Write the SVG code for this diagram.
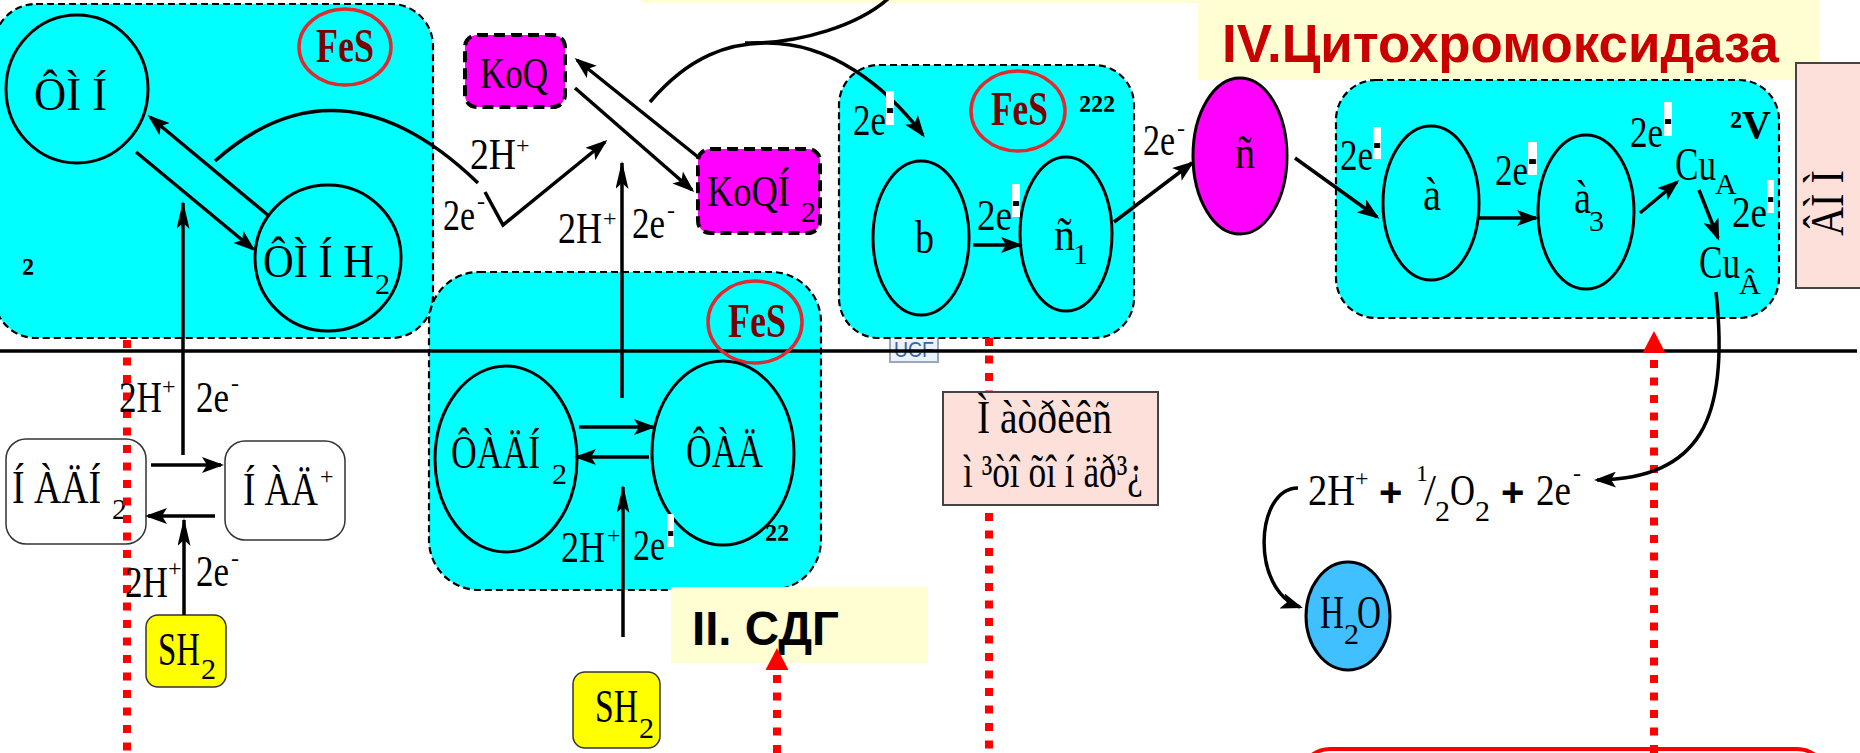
<svg xmlns="http://www.w3.org/2000/svg" width="1860" height="753" viewBox="0 0 1860 753">
<defs>
<style>
.bx{fill:#00FFFF;stroke:#000;stroke-width:2.2;stroke-dasharray:7 4}
.el{fill:#00FFFF;stroke:#000;stroke-width:3}
.fe{fill:none;stroke:#E02A2E;stroke-width:3.5}
.ft{font-family:"Liberation Serif",serif;font-weight:bold;font-size:48px;fill:#7B0000}
.t{font-family:"Liberation Serif",serif;font-size:44px;fill:#000}
.n{font-family:"Liberation Serif",serif;font-size:46px;fill:#000}
.s{font-family:"Liberation Serif",serif;font-size:24px;fill:#000}
.sb{font-family:"Liberation Serif",serif;font-size:30px;fill:#000}
.r{font-family:"Liberation Serif",serif;font-weight:bold;font-size:40px;fill:#000}
.q{fill:#FF00FF;stroke:#000;stroke-width:4;stroke-dasharray:11 6}
.c{fill:none;stroke:#000;stroke-width:3.5}
.rd{fill:none;stroke:#FF0000;stroke-width:8;stroke-dasharray:8 9.5}
.wb{fill:#FFFFFF}
.d{font-family:"Liberation Sans",sans-serif;font-weight:bold;font-size:40px;fill:#000}
.yl{fill:#FFFDD2}
.pk{fill:#FDE0DA;stroke:#444;stroke-width:2}
.wbox{fill:#FFFFFF;stroke:#333;stroke-width:1.5}
.ybox{fill:#FFFF00;stroke:#333;stroke-width:1.5}
.ttl{font-family:"Liberation Sans",sans-serif;font-weight:bold}
</style>
<marker id="ah" markerUnits="userSpaceOnUse" markerWidth="22" markerHeight="16" viewBox="0 0 22 16" refX="19" refY="8" orient="auto"><path d="M0,0 L22,8 L0,16 L5,8 z" fill="#000"/></marker>
<marker id="av" markerUnits="userSpaceOnUse" markerWidth="28" markerHeight="13" viewBox="0 0 28 13" refX="26" refY="6.5" orient="auto"><path d="M0,0 L28,6.5 L0,13 L6,6.5 z" fill="#000"/></marker>
<marker id="ar" markerUnits="userSpaceOnUse" markerWidth="22" markerHeight="23" viewBox="0 0 22 23" refX="0" refY="11.5" orient="auto"><path d="M0,0 L22,11.5 L0,23 z" fill="#FF0000"/></marker>
<clipPath id="icl"><rect x="890" y="322" width="48" height="40"/></clipPath>
</defs>

<g id="top-yellow"><rect class="yl" x="641" y="-60" width="575" height="63"/></g>
<g id="title-IV"><rect class="yl" x="1198" y="-5" width="622" height="85"/>
<text class="ttl" x="1222" y="62" font-size="53" fill="#C80000" textLength="557" lengthAdjust="spacingAndGlyphs">IV.Цитохромоксидаза</text></g>

<g id="icon"><rect x="890" y="322" width="48" height="40" fill="#EAF2FB" stroke="#9BA8B8" stroke-width="2"/>
<text x="894" y="357" clip-path="url(#icl)" font-family="Liberation Sans,sans-serif" font-size="22" fill="#3F63A0" textLength="40" lengthAdjust="spacingAndGlyphs">UCF</text></g>

<g id="complex-I"><rect class="bx" x="-6" y="4" width="439" height="334" rx="42"/>
<text class="r" x="22" y="285">²</text></g>
<g id="complex-II"><rect class="bx" x="429" y="272" width="392" height="318" rx="50"/>
<text class="r" x="765" y="551">²²</text></g>
<g id="complex-III"><rect class="bx" x="839" y="65" width="295" height="273" rx="40"/>
<text class="r" x="1079" y="122">²²²</text></g>
<g id="complex-IV"><rect class="bx" x="1336" y="80" width="443" height="238" rx="40"/>
<text class="r" x="1730" y="138" font-size="38">²V</text></g>

<g id="membrane"><line x1="0" y1="351" x2="1857" y2="351" stroke="#000" stroke-width="3.5"/></g>

<g id="red-line-matrix"><path class="rd" d="M989,338 V753"/></g>

<g id="fes1"><ellipse class="fe" cx="345" cy="47" rx="46" ry="38"/><text class="ft" x="316" y="62" textLength="58" lengthAdjust="spacingAndGlyphs">FeS</text></g>
<g id="fmn"><ellipse class="el" cx="77" cy="89" rx="71" ry="74"/><text class="n" x="34" y="110" textLength="73" lengthAdjust="spacingAndGlyphs">ÔÌ Í</text></g>
<g id="fmnh2"><ellipse class="el" cx="328" cy="258" rx="73" ry="73"/><text class="n" x="263" y="277" textLength="111" lengthAdjust="spacingAndGlyphs">ÔÌ Í H</text><text class="sb" x="375" y="294">2</text></g>

<g id="koq"><rect class="q" x="465" y="35" width="100" height="72" rx="12"/><text class="t" x="480" y="88" font-size="48" textLength="68" lengthAdjust="spacingAndGlyphs">KoQ</text></g>
<g id="koqh2"><rect class="q" x="698" y="149" width="122" height="84" rx="12"/><text class="t" x="707" y="206" font-size="48" textLength="83" lengthAdjust="spacingAndGlyphs">KoQÍ</text><text class="sb" x="801" y="222">2</text></g>

<g id="fes3"><ellipse class="fe" cx="755" cy="322" rx="47" ry="41"/><text class="ft" x="728" y="337" textLength="58" lengthAdjust="spacingAndGlyphs">FeS</text></g>
<g id="fadh2"><ellipse class="el" cx="506" cy="459" rx="71" ry="93"/><text class="n" x="451" y="468" textLength="89" lengthAdjust="spacingAndGlyphs">ÔÀÄÍ</text><text class="sb" x="552" y="484">2</text></g>
<g id="fad"><ellipse class="el" cx="723" cy="453" rx="71" ry="92"/><text class="n" x="686" y="467" textLength="77" lengthAdjust="spacingAndGlyphs">ÔÀÄ</text></g>

<g id="fes2"><ellipse class="fe" cx="1018" cy="111" rx="47" ry="40"/><text class="ft" x="991" y="125" textLength="57" lengthAdjust="spacingAndGlyphs">FeS</text></g>
<g id="cyt-b"><ellipse class="el" cx="921" cy="238" rx="48" ry="77"/><text class="n" x="915" y="253" textLength="19" lengthAdjust="spacingAndGlyphs">b</text></g>
<g id="cyt-c1"><ellipse class="el" cx="1066" cy="234" rx="46" ry="77"/><text class="n" x="1054" y="250" textLength="21" lengthAdjust="spacingAndGlyphs">ñ</text><text class="sb" x="1073" y="264">1</text></g>
<g id="cyt-c"><ellipse cx="1240" cy="156" rx="47" ry="78" fill="#FF00FF" stroke="#000" stroke-width="3"/><text class="n" x="1235" y="168" textLength="20" lengthAdjust="spacingAndGlyphs">ñ</text></g>

<g id="cyt-a"><ellipse class="el" cx="1431" cy="203" rx="48" ry="77"/><text class="n" x="1423" y="210" textLength="18" lengthAdjust="spacingAndGlyphs">à</text></g>
<g id="cyt-a3"><ellipse class="el" cx="1586" cy="212" rx="48" ry="77"/><text class="n" x="1574" y="213" textLength="17" lengthAdjust="spacingAndGlyphs">à</text><text class="sb" x="1589" y="231">3</text></g>
<g id="cuA"><text class="n" x="1675" y="180" textLength="41" lengthAdjust="spacingAndGlyphs">Cu</text><text class="sb" x="1715" y="194">A</text></g>
<g id="cuB"><text class="n" x="1699" y="278" textLength="41" lengthAdjust="spacingAndGlyphs">Cu</text><text class="sb" x="1739" y="294">Â</text></g>

<g id="nadh2"><rect class="wbox" x="6" y="439" width="140" height="105" rx="20"/><text class="n" x="12" y="503" textLength="89" lengthAdjust="spacingAndGlyphs">Í ÀÄÍ</text><text class="sb" x="112" y="519">2</text></g>
<g id="nad"><rect class="wbox" x="225" y="441" width="120" height="99" rx="20"/><text class="n" x="243" y="505" textLength="75" lengthAdjust="spacingAndGlyphs">Í ÀÄ</text><text class="s" x="320" y="484">+</text></g>
<g id="sh2-a"><rect class="ybox" x="146" y="615" width="80" height="72" rx="12"/><text class="n" x="158" y="665" textLength="42" lengthAdjust="spacingAndGlyphs">SH</text><text class="sb" x="201" y="679">2</text></g>
<g id="sh2-b"><rect class="ybox" x="573" y="672" width="87" height="76" rx="12"/><text class="n" x="595" y="722" textLength="43" lengthAdjust="spacingAndGlyphs">SH</text><text class="sb" x="639" y="738">2</text></g>

<g id="matrix"><rect class="pk" x="943" y="392" width="215" height="113"/>
<text class="n" x="977" y="433" font-size="42" textLength="135" lengthAdjust="spacingAndGlyphs">Ì  àòðèêñ</text>
<text class="n" x="963" y="487" font-size="42" textLength="180" lengthAdjust="spacingAndGlyphs">ì ³òî õî í äð³¿</text></g>
<g id="side-box"><rect class="pk" x="1796" y="63" width="80" height="225"/>
<text class="n" font-size="42" transform="translate(1843,236) rotate(-90)" textLength="66" lengthAdjust="spacingAndGlyphs">ÂÌ Ì</text></g>

<g id="title-II"><rect class="yl" x="671" y="587" width="257" height="76"/>
<text class="ttl" x="692" y="645" font-size="48" fill="#000" textLength="147" lengthAdjust="spacingAndGlyphs">II. СДГ</text></g>

<g id="equation">
<text class="t" x="1308" y="505" textLength="47" lengthAdjust="spacingAndGlyphs">2H</text><text class="s" x="1355" y="486">+</text>
<text class="d" x="1379" y="506">+</text>
<text class="s" x="1416" y="481">1</text><text class="t" x="1424" y="505" textLength="12" lengthAdjust="spacingAndGlyphs">/</text><text class="sb" x="1435" y="521">2</text>
<text class="t" x="1450" y="505" textLength="25" lengthAdjust="spacingAndGlyphs">O</text><text class="sb" x="1475" y="521">2</text>
<text class="d" x="1501" y="506">+</text>
<text class="t" x="1536" y="505" textLength="35" lengthAdjust="spacingAndGlyphs">2e</text><text class="s" x="1573" y="481">-</text>
</g>
<g id="h2o"><ellipse cx="1348" cy="616" rx="42" ry="54" fill="#40C0FF" stroke="#000" stroke-width="3"/>
<text class="n" x="1320" y="628" textLength="24" lengthAdjust="spacingAndGlyphs">H</text><text class="sb" x="1344" y="644">2</text><text class="n" x="1357" y="628" textLength="24" lengthAdjust="spacingAndGlyphs">O</text></g>

<g id="red-box"><rect x="1300" y="749" width="527" height="80" rx="30" fill="none" stroke="#FF0000" stroke-width="4"/></g>

<g id="red-lines">
<path class="rd" d="M127,340 V753"/>
<path class="rd" d="M777,753 V670" marker-end="url(#ar)"/>
<path class="rd" d="M1654,753 V353" marker-end="url(#ar)"/>
</g>

<g id="connectors">
<path class="c" d="M215,161 Q340,50 478,183"/>
<path class="c" d="M485,192 L503,225 L605,142" marker-end="url(#ah)"/>
<path class="c" d="M650,102 C690,55 730,43 767,43 C830,43 885,85 923,135" marker-end="url(#ah)"/>
<path class="c" d="M745,43 C800,44 860,25 890,-3"/>
<line class="c" x1="136" y1="152" x2="253" y2="249" marker-end="url(#ah)"/>
<line class="c" x1="269" y1="216" x2="150" y2="117" marker-end="url(#ah)"/>
<line class="c" x1="698" y1="157" x2="577" y2="60" marker-end="url(#ah)"/>
<line class="c" x1="575" y1="88" x2="692" y2="190" marker-end="url(#ah)"/>
<line class="c" stroke-width="3" x1="183" y1="455" x2="183" y2="203" marker-end="url(#av)"/>
<line class="c" stroke-width="5" x1="151" y1="465" x2="221" y2="465" marker-end="url(#ah)"/>
<line class="c" stroke-width="5" x1="215" y1="516" x2="148" y2="516" marker-end="url(#ah)"/>
<line class="c" stroke-width="3" x1="184" y1="615" x2="184" y2="520" marker-end="url(#av)"/>
<line class="c" stroke-width="3" x1="622" y1="398" x2="622" y2="163" marker-end="url(#av)"/>
<line class="c" stroke-width="3" x1="623" y1="637" x2="623" y2="487" marker-end="url(#av)"/>
<line class="c" stroke-width="4" x1="579" y1="427" x2="653" y2="427" marker-end="url(#ah)"/>
<line class="c" stroke-width="4" x1="649" y1="457" x2="577" y2="457" marker-end="url(#ah)"/>
<line class="c" stroke-width="5" x1="973" y1="245" x2="1020" y2="245" marker-end="url(#ah)"/>
<line class="c" x1="1114" y1="222" x2="1192" y2="163" marker-end="url(#ah)"/>
<line class="c" x1="1295" y1="158" x2="1377" y2="217" marker-end="url(#ah)"/>
<line class="c" stroke-width="4.5" x1="1479" y1="218" x2="1536" y2="218" marker-end="url(#ah)"/>
<line class="c" x1="1640" y1="213" x2="1677" y2="182" marker-end="url(#ah)"/>
<line class="c" x1="1699" y1="190" x2="1718" y2="238" marker-end="url(#ah)"/>
<path class="c" stroke-width="3" d="M1716,292 C1730,420 1700,478 1597,480" marker-end="url(#ah)"/>
<path class="c" stroke-width="3" d="M1298,488 C1255,488 1250,590 1300,607" marker-end="url(#ah)"/>
</g>

<g id="labels">
<text class="t" x="470" y="169" textLength="46" lengthAdjust="spacingAndGlyphs">2H</text><text class="s" x="516" y="153">+</text>
<text class="t" x="443" y="230" textLength="32" lengthAdjust="spacingAndGlyphs">2e</text><text class="s" x="477" y="209">-</text>
<text class="t" x="558" y="243" textLength="44" lengthAdjust="spacingAndGlyphs">2H</text><text class="s" x="603" y="226">+</text>
<text class="t" x="632" y="238" textLength="33" lengthAdjust="spacingAndGlyphs">2e</text><text class="s" x="667" y="218">-</text>
<text class="t" x="119" y="412" textLength="43" lengthAdjust="spacingAndGlyphs">2H</text><text class="s" x="162" y="394">+</text>
<text class="t" x="196" y="412" textLength="33" lengthAdjust="spacingAndGlyphs">2e</text><text class="s" x="231" y="391">-</text>
<text class="t" x="125" y="597" textLength="43" lengthAdjust="spacingAndGlyphs">2H</text><text class="s" x="168" y="576">+</text>
<text class="t" x="196" y="586" textLength="33" lengthAdjust="spacingAndGlyphs">2e</text><text class="s" x="231" y="566">-</text>
<text class="t" x="561" y="562" textLength="44" lengthAdjust="spacingAndGlyphs">2H</text><text class="s" x="607" y="543">+</text>
<text class="t" x="1143" y="155" textLength="32" lengthAdjust="spacingAndGlyphs">2e</text><text class="s" x="1177" y="136">-</text>

<text class="t" x="853" y="135" textLength="33" lengthAdjust="spacingAndGlyphs">2e</text><rect class="wb" x="886" y="91" width="8" height="34"/><text class="d" x="886" y="121" textLength="8" lengthAdjust="spacingAndGlyphs">-</text>
<text class="t" x="977" y="230" textLength="35" lengthAdjust="spacingAndGlyphs">2e</text><rect class="wb" x="1012" y="184" width="8" height="33"/><text class="d" x="1012" y="214" textLength="8" lengthAdjust="spacingAndGlyphs">-</text>
<text class="t" x="1340" y="170" textLength="33" lengthAdjust="spacingAndGlyphs">2e</text><rect class="wb" x="1373" y="127" width="8" height="32"/><text class="d" x="1373" y="156" textLength="8" lengthAdjust="spacingAndGlyphs">-</text>
<text class="t" x="1495" y="185" textLength="33" lengthAdjust="spacingAndGlyphs">2e</text><rect class="wb" x="1528" y="142" width="9" height="33"/><text class="d" x="1528" y="172" textLength="9" lengthAdjust="spacingAndGlyphs">-</text>
<text class="t" x="1630" y="147" textLength="33" lengthAdjust="spacingAndGlyphs">2e</text><rect class="wb" x="1664" y="102" width="8" height="34"/><text class="d" x="1664" y="132" textLength="8" lengthAdjust="spacingAndGlyphs">-</text>
<text class="t" x="1732" y="227" textLength="35" lengthAdjust="spacingAndGlyphs">2e</text><rect class="wb" x="1767" y="180" width="7" height="33"/><text class="d" x="1767" y="210" textLength="7" lengthAdjust="spacingAndGlyphs">-</text>
<text class="t" x="633" y="560" textLength="32" lengthAdjust="spacingAndGlyphs">2e</text><rect class="wb" x="667" y="514" width="7" height="33"/><text class="d" x="667" y="544" textLength="7" lengthAdjust="spacingAndGlyphs">-</text>
</g>
</svg>
